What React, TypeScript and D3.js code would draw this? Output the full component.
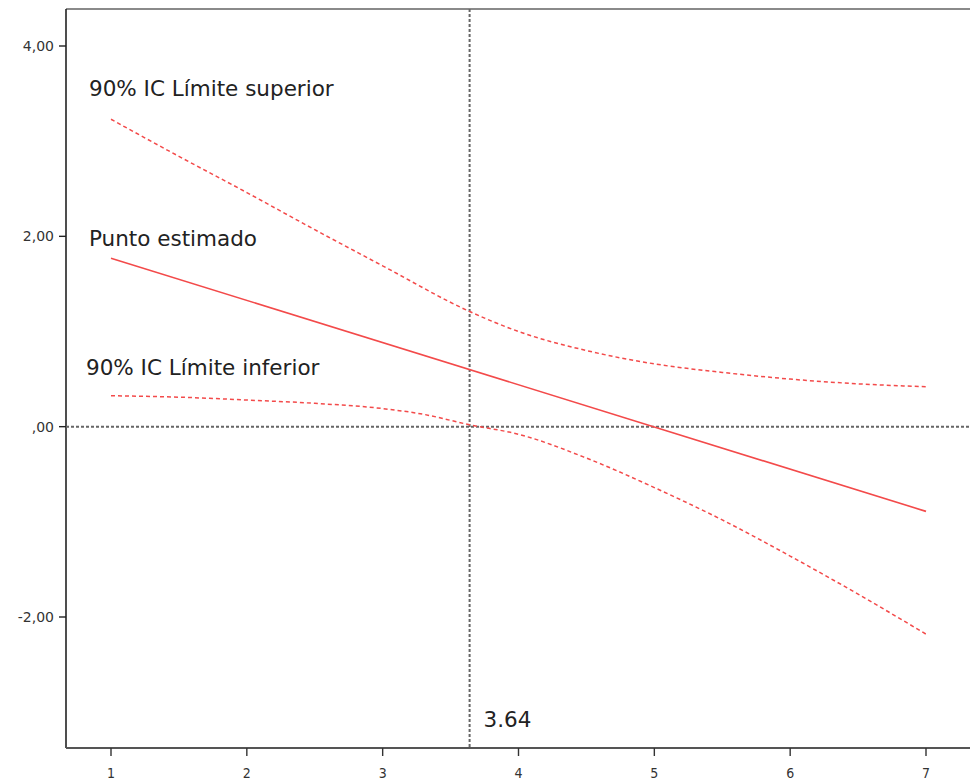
import React from "react";
import * as d3 from "d3";

const xTicks = [1, 2, 3, 4, 5, 6, 7];
const yTicks = [4, 2, 0, -2];
const estX = [1, 7];
const estY = [1.77, -0.89];
const upperX = [1, 1.5, 2, 2.5, 3, 3.64, 4, 4.5, 5, 5.5, 6, 6.5, 7];
const upperY = [3.23, 2.84, 2.46, 2.07, 1.69, 1.21, 1.0, 0.8, 0.66, 0.57, 0.5, 0.45, 0.42];
const lowerX = [1, 1.5, 2, 2.5, 3, 3.3, 3.64, 4, 4.5, 5, 5.5, 6, 6.5, 7];
const lowerY = [0.325, 0.31, 0.28, 0.245, 0.19, 0.13, 0.02, -0.08, -0.33, -0.64, -0.98, -1.36, -1.76, -2.18];
const refX = 3.64;
const refY = 0;
const labels = ["90% IC Límite superior", "Punto estimado", "90% IC Límite inferior"];

const W = 970;
const H = 782;
const left = 66;
const top = 9;
const bottom = 748;

export default function App() {
  const x = d3.scaleLinear().domain([1, 7]).range([111, 926]);
  const y = d3.scaleLinear().domain([4, -2]).range([46, 617]);
  const line = d3
    .line<[number, number]>()
    .x((d) => x(d[0]))
    .y((d) => y(d[1]))
    .curve(d3.curveMonotoneX);
  const est = line(estX.map((v, i) => [v, estY[i]]));
  const up = line(upperX.map((v, i) => [v, upperY[i]]));
  const lo = line(lowerX.map((v, i) => [v, lowerY[i]]));
  const red = "#f34a4a";
  const font = "DejaVu Sans, sans-serif";
  const fmt = (t: number) => (t === 0 ? ",00" : d3.format(".2f")(t).replace(".", ",").replace("−", "-"));
  return (
    <svg
      width={W}
      height={H}
      style={{ position: "absolute", left: 0, top: 0, display: "block" }}
      fontFamily={font}
    >
      <rect width={W} height={H} fill="#fff" />
      {/* frame */}
      <line x1={left} x2={W} y1={top} y2={top} stroke="#8a8a8a" strokeWidth={2} />
      <line x1={left} x2={left} y1={top} y2={bottom} stroke="#222" strokeWidth={1.6} />
      <line x1={left} x2={W} y1={bottom} y2={bottom} stroke="#555" strokeWidth={2} />
      {/* reference lines */}
      <line x1={left} x2={W} y1={y(refY)} y2={y(refY)} stroke="#666" strokeWidth={2} strokeDasharray="3,2" />
      <line x1={x(refX)} x2={x(refX)} y1={top} y2={bottom} stroke="#666" strokeWidth={2} strokeDasharray="3,2" />
      {/* y axis */}
      {yTicks.map((t) => (
        <g key={t}>
          <line x1={left - 7} x2={left} y1={y(t)} y2={y(t)} stroke="#222" strokeWidth={1.4} />
          <text x={left - 12} y={y(t) + 5} textAnchor="end" fontSize={14} fill="#333">
            {fmt(t)}
          </text>
        </g>
      ))}
      {/* x axis */}
      {xTicks.map((t) => (
        <g key={t}>
          <line x1={x(t)} x2={x(t)} y1={bottom} y2={bottom + 8} stroke="#333" strokeWidth={1.4} />
          <text
            x={x(t)}
            y={bottom + 30}
            textAnchor="middle"
            fontSize={14}
            fill="#333"
            fontFamily="DejaVu Sans Condensed, DejaVu Sans, sans-serif"
          >
            {t}
          </text>
        </g>
      ))}
      {/* lines */}
      <path d={up ?? ""} fill="none" stroke={red} strokeWidth={1.5} strokeDasharray="4,3" />
      <path d={lo ?? ""} fill="none" stroke={red} strokeWidth={1.5} strokeDasharray="4,3" />
      <path d={est ?? ""} fill="none" stroke={red} strokeWidth={1.6} />
      {/* labels */}
      <text x={89} y={96} fontSize={21.5} fill="#222">{labels[0]}</text>
      <text x={89} y={246} fontSize={21.5} fill="#222">{labels[1]}</text>
      <text x={86} y={375} fontSize={21.5} fill="#222">{labels[2]}</text>
      <text x={x(refX) + 14} y={727} fontSize={21.5} fill="#222">{String(refX)}</text>
    </svg>
  );
}
